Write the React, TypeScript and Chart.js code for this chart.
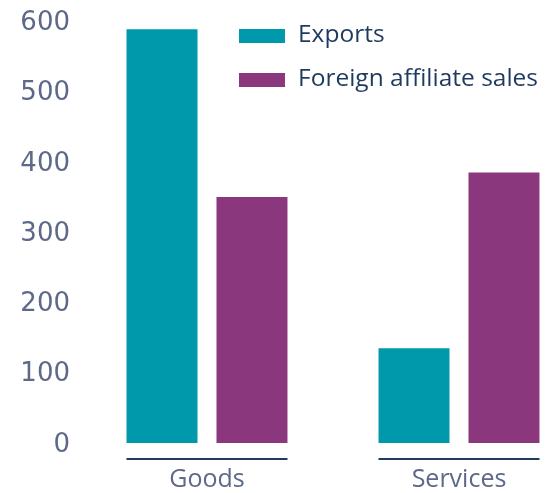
import React, { useEffect, useRef } from "react";
import { Chart, registerables } from "chart.js";

Chart.register(...registerables);

const categories = ["Goods", "Services"];
const seriesLabels = ["Exports", "Foreign affiliate sales"];
const exportsValues = [589, 135];
const affiliateValues = [350, 385];
const yMin = 0;
const yMax = 600;
const yStep = 100;

const TEAL = "#0099AC";
const PURPLE = "#8B377D";
const TICK_COLOR = "#5E6989";
const NAVY = "#1E3A5F";

const legendPlugin = {
  id: "customLegend",
  afterDraw(chart: any) {
    const ctx = chart.ctx;
    ctx.save();
    chart.data.datasets.forEach((ds: any, i: number) => {
      const y = 29 + i * 44;
      ctx.fillStyle = ds.backgroundColor;
      ctx.fillRect(239, y, 46, 14);
      ctx.fillStyle = NAVY;
      ctx.font = "500 24.5px 'Open Sans'";
      ctx.textAlign = "left";
      ctx.textBaseline = "alphabetic";
      ctx.fillText(ds.label, 298, y + 13);
    });
    ctx.restore();
  },
};

const groupLinePlugin = {
  id: "groupLines",
  afterDatasetsDraw(chart: any) {
    const { ctx, chartArea } = chart;
    ctx.save();
    ctx.strokeStyle = NAVY;
    ctx.lineWidth = 2;
    chart.data.labels.forEach((_: any, idx: number) => {
      let minX = Infinity;
      let maxX = -Infinity;
      chart.data.datasets.forEach((__: any, di: number) => {
        const el = chart.getDatasetMeta(di).data[idx];
        if (!el) return;
        const { x, width } = el.getProps(["x", "width"], true);
        minX = Math.min(minX, x - width / 2);
        maxX = Math.max(maxX, x + width / 2);
      });
      const y = chartArea.bottom + 16;
      ctx.beginPath();
      ctx.moveTo(minX, y);
      ctx.lineTo(maxX, y);
      ctx.stroke();
    });
    ctx.restore();
  },
};

export default function App() {
  const canvasRef = useRef<HTMLCanvasElement | null>(null);

  useEffect(() => {
    if (!canvasRef.current) return;
    const chart = new Chart(canvasRef.current, {
      type: "bar",
      data: {
        labels: categories,
        datasets: [
          {
            label: seriesLabels[0],
            data: exportsValues,
            backgroundColor: TEAL,
            categoryPercentage: 0.714,
            barPercentage: 0.789,
          },
          {
            label: seriesLabels[1],
            data: affiliateValues,
            backgroundColor: PURPLE,
            categoryPercentage: 0.714,
            barPercentage: 0.789,
          },
        ],
      },
      options: {
        animation: false,
        responsive: true,
        maintainAspectRatio: false,
        layout: { padding: { top: 21, left: 0, right: 0, bottom: 0 } },
        plugins: {
          legend: { display: false },
          tooltip: { enabled: false },
        },
        scales: {
          x: {
            grid: { display: false, drawTicks: false },
            border: { display: false },
            ticks: {
              color: TICK_COLOR,
              font: { family: "'Open Sans'", size: 25, weight: "500" },
              padding: 22,
            },
            afterFit(scale: any) {
              scale.height = 50;
            },
          },
          y: {
            min: yMin,
            max: yMax,
            grid: { display: false, drawTicks: false },
            border: { display: false },
            ticks: {
              stepSize: yStep,
              color: TICK_COLOR,
              font: { family: "'DejaVu Sans'", size: 26, lineHeight: 0.8 },
              padding: 11,
              labelOffset: 2,
            },
            afterFit(scale: any) {
              scale.width = 81;
            },
          },
        },
      },
      plugins: [groupLinePlugin, legendPlugin],
    });
    return () => chart.destroy();
  }, []);

  return (
    <div
      style={{
        position: "fixed",
        left: 0,
        top: 0,
        width: 551,
        height: 493,
        overflow: "hidden",
        background: "#ffffff",
      }}
    >
      <div style={{ position: "relative", width: 585, height: 493 }}>
        <canvas ref={canvasRef} />
      </div>
    </div>
  );
}
